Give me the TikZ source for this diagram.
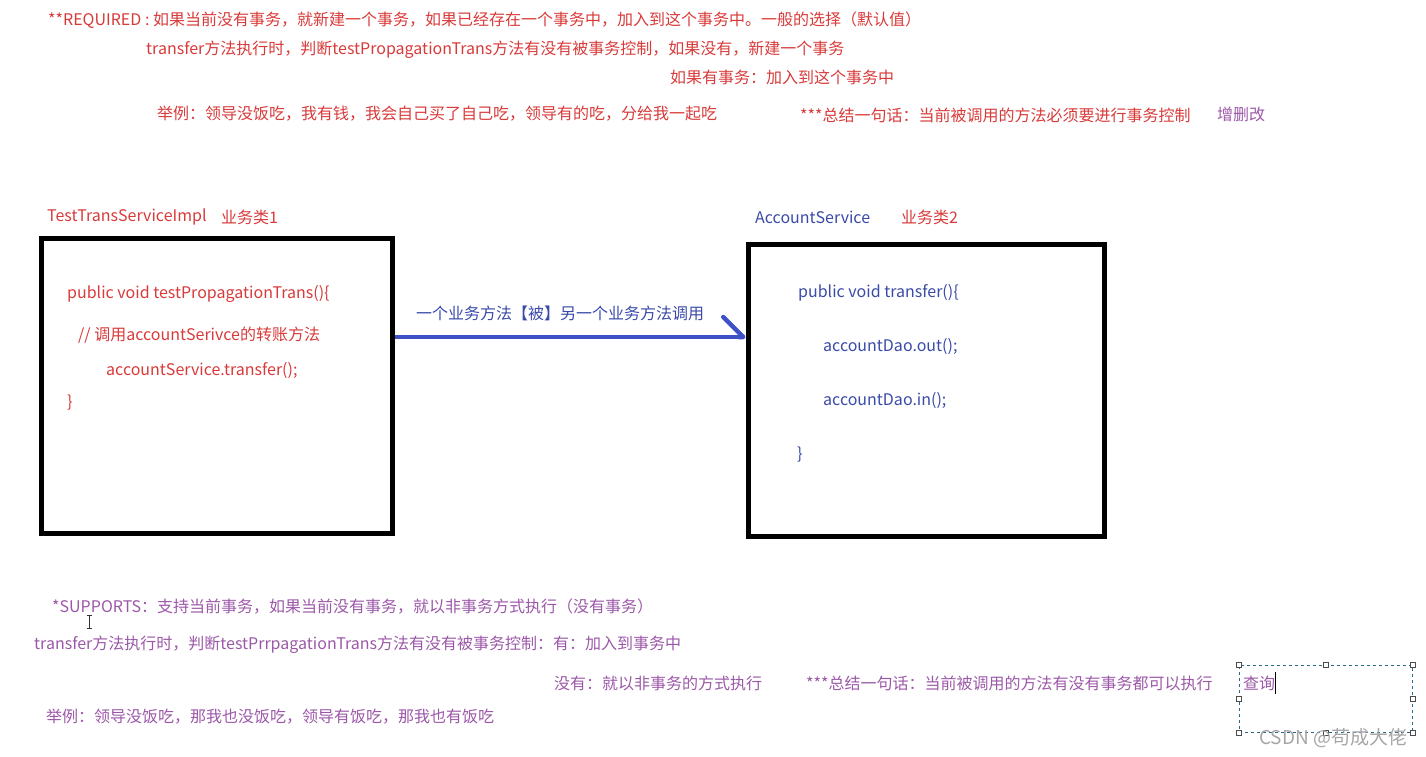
\documentclass[tikz,border=0pt]{standalone}
\usepackage{fontspec}
\setmainfont{Noto Sans CJK SC}
\usepackage{xcolor}
\usepackage{tikz}
\usetikzlibrary{arrows.meta, positioning}

\definecolor{reqred}{RGB}{216,58,58}
\definecolor{supviolet}{RGB}{156,88,168}
\definecolor{codeblue}{RGB}{58,74,168}
\definecolor{callblue}{RGB}{62,80,200}
\definecolor{selteal}{RGB}{40,104,140}

\begin{document}
\begin{tikzpicture}[x=1pt, y=-1pt,
    txt/.style={anchor=west, inner sep=0pt, font=\fontsize{16}{19}\selectfont},
    cls/.style={draw, line width=5pt, minimum width=#1, inner sep=0pt},
    handle/.style={draw=black!70, fill=white, line width=0.8pt, minimum size=5pt, inner sep=0pt}]
    \useasboundingbox (0,0) rectangle (1426,756);

    % REQUIRED
    \node[txt, reqred] (req) at (48,20) {**REQUIRED : 如果当前没有事务，就新建一个事务，如果已经存在一个事务中，加入到这个事务中。一般的选择（默认值）};
    \node[txt, reqred] (reqa) at (146,50) {transfer方法执行时，判断testPropagationTrans方法有没有被事务控制，如果没有，新建一个事务};
    \node[txt, reqred] (reqb) at (670,77) {如果有事务：加入到这个事务中};
    \node[txt, reqred] (reqex) at (157,114) {举例：领导没饭吃，我有钱，我会自己买了自己吃，领导有的吃，分给我一起吃};
    \node[txt, reqred] (reqsum) at (800,115) {***总结一句话：当前被调用的方法必须要进行事务控制};
    \node[txt, supviolet] (crud) at (1217,114) {增删改};

    % Business class 1
    \node[txt, reqred] (implname) at (47,217) {TestTransServiceImpl};
    \node[txt, reqred] (impltag) at (221,217) {业务类1};
    \node[cls=351pt, minimum height=295pt] (impl) at (216.5,385.5) {};
    \node[txt, reqred] (implsig) at (67,294) {public void testPropagationTrans()\{};
    \node[txt, reqred] (implcmt) at (78,335) {// 调用accountSerivce的转账方法};
    \node[txt, reqred] (implcall) at (106,371) {accountService.transfer();};
    \node[txt, reqred] (implend) at (67,403) {\}};

    % Business class 2
    \node[txt, codeblue] (acctname) at (755,217) {AccountService};
    \node[txt, reqred] (accttag) at (901,217) {业务类2};
    \node[cls=356pt, minimum height=292pt] (acct) at (926,390) {};
    \node[txt, codeblue] (acctsig) at (798,293) {public void transfer()\{};
    \node[txt, codeblue] (acctout) at (823,347) {accountDao.out();};
    \node[txt, codeblue] (acctin) at (823,401) {accountDao.in();};
    \node[txt, codeblue] (acctend) at (797,455) {\}};

    % The call
    \node[txt, codeblue] (call) at (416,313) {一个业务方法【被】另一个业务方法调用};
    \coordinate (callY) at (0,337);
    \draw[callblue, line width=4.5pt, -{Straight Barb[harpoon, round, length=20pt, width=40pt]}]
        (impl.east |- callY) -- (acct.west |- callY);

    % SUPPORTS
    \node[txt, supviolet] (sup) at (52,606) {*SUPPORTS：支持当前事务，如果当前没有事务，就以非事务方式执行（没有事务）};
    \node[txt, supviolet] (supa) at (34,645) {transfer方法执行时，判断testPrrpagationTrans方法有没有被事务控制：有：加入到事务中};
    \node[txt, supviolet] (supb) at (554,683) {没有：就以非事务的方式执行};
    \node[txt, supviolet] (supsum) at (806,683) {***总结一句话：当前被调用的方法有没有事务都可以执行};
    \node[txt, supviolet] (supex) at (46,717) {举例：领导没饭吃，那我也没饭吃，领导有饭吃，那我也有饭吃};

    % Selected text box
    \node[draw=selteal, dashed, line width=0.8pt, minimum width=173pt, minimum height=67pt, inner sep=0pt] (sel) at (1325.5,698.5) {};
    \node[txt, supviolet] (query) at (1243,683) {查询};
    \draw[line width=1pt] (1275,672) -- (1275,694);
    \foreach \a in {north west, north, north east, west, east, south west, south, south east}
        \node[handle] at (sel.\a) {};

    % Text cursor
    \draw[black!80, line width=0.8pt] (89,615) -- (89,628) (86.5,615) -- (91.5,615) (86.5,628) -- (91.5,628);

    % Watermark
    \node[txt, black!35, font=\fontsize{19}{22}\selectfont] (mark) at (1259,738) {CSDN @苟成大佬};
\end{tikzpicture}
\end{document}
